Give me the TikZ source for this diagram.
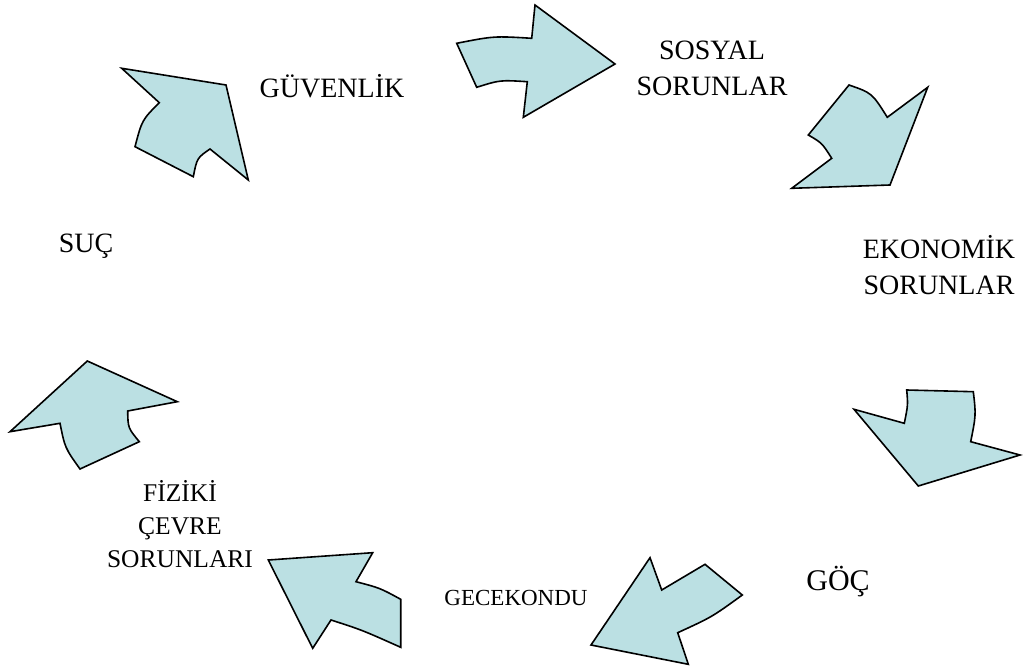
\documentclass[tikz,border=0pt]{standalone}
\usepackage{fontspec}
\setmainfont{Liberation Serif}
\definecolor{arrowfill}{RGB}{187,224,227}
\begin{document}
\begin{tikzpicture}[x=1pt,y=-1pt,
  bigarrow/.style={draw=black,fill=arrowfill,line width=1.6pt,line join=miter},
  biglabel/.style={align=center,inner sep=0pt,font=\fontsize{28}{36}\selectfont},
  goclabel/.style={align=center,inner sep=0pt,font=\fontsize{30}{36}\selectfont},
  midlabel/.style={align=center,inner sep=0pt,font=\fontsize{25.5}{33}\selectfont},
  smalllabel/.style={align=center,inner sep=0pt,font=\fontsize{23}{28}\selectfont}]
\useasboundingbox (0,0) rectangle (1027,668);
% arrows
\draw[bigarrow] (456.7,43.3) .. controls (494,36) .. (531.7,38.3) -- (535,5) -- (615,64) -- (523.3,117.3) -- (527.3,81.7) .. controls (500,80) .. (476.7,87.3) -- cycle;
\draw[bigarrow] (849,85) .. controls (872,93) .. (887.3,117.3) -- (927.7,87.3) -- (890,185) -- (791.7,188.3) -- (831.7,158.3) .. controls (822,143) .. (808.3,135) -- cycle;
\draw[bigarrow] (906.7,390) -- (973.3,391.7) .. controls (976,415) .. (970.7,441.7) -- (1020,455) -- (918.3,486) -- (854,409.3) -- (904.3,423.3) .. controls (908,405) .. cycle;
\draw[bigarrow] (650,557.7) -- (661.7,590) -- (705,564.3) -- (742.3,595) .. controls (712,617) .. (677.7,632.7) -- (688.3,664.3) -- (591,645) -- cycle;
\draw[bigarrow] (268.3,560) -- (372.7,552.7) -- (356,581.7) .. controls (380,588) .. (400.7,599.3) -- (400.7,647.3) .. controls (362,630) .. (331,620) -- (312.7,648.3) -- cycle;
\draw[bigarrow] (87.3,361) -- (177.3,401.7) -- (127.7,411) .. controls (128,428) .. (139.3,441.7) -- (80,469) .. controls (65,448) .. (60,423.3) -- (10,431.7) -- cycle;
\draw[bigarrow] (121.7,68.3) -- (226,85) -- (248.3,180) -- (210,149) .. controls (197,158) .. (193.3,176.7) -- (135,146.7) .. controls (142,120) .. (159.3,102.7) -- cycle;
% labels
\node[biglabel] (guvenlik) at (332,86) {GÜVENLİK};
\node[biglabel] (sosyal) at (712,68) {SOSYAL\\SORUNLAR};
\node[biglabel] (ekonomik) at (939,265) {EKONOMİK\\SORUNLAR};
\node[biglabel] (suc) at (86,246) {SUÇ};
\node[goclabel] (goc) at (838,582) {GÖÇ};
\node[smalllabel] (gecekondu) at (516,598) {GECEKONDU};
\node[midlabel] (fiziki) at (180,524) {FİZİKİ\\ÇEVRE\\SORUNLARI};
\end{tikzpicture}
\end{document}
